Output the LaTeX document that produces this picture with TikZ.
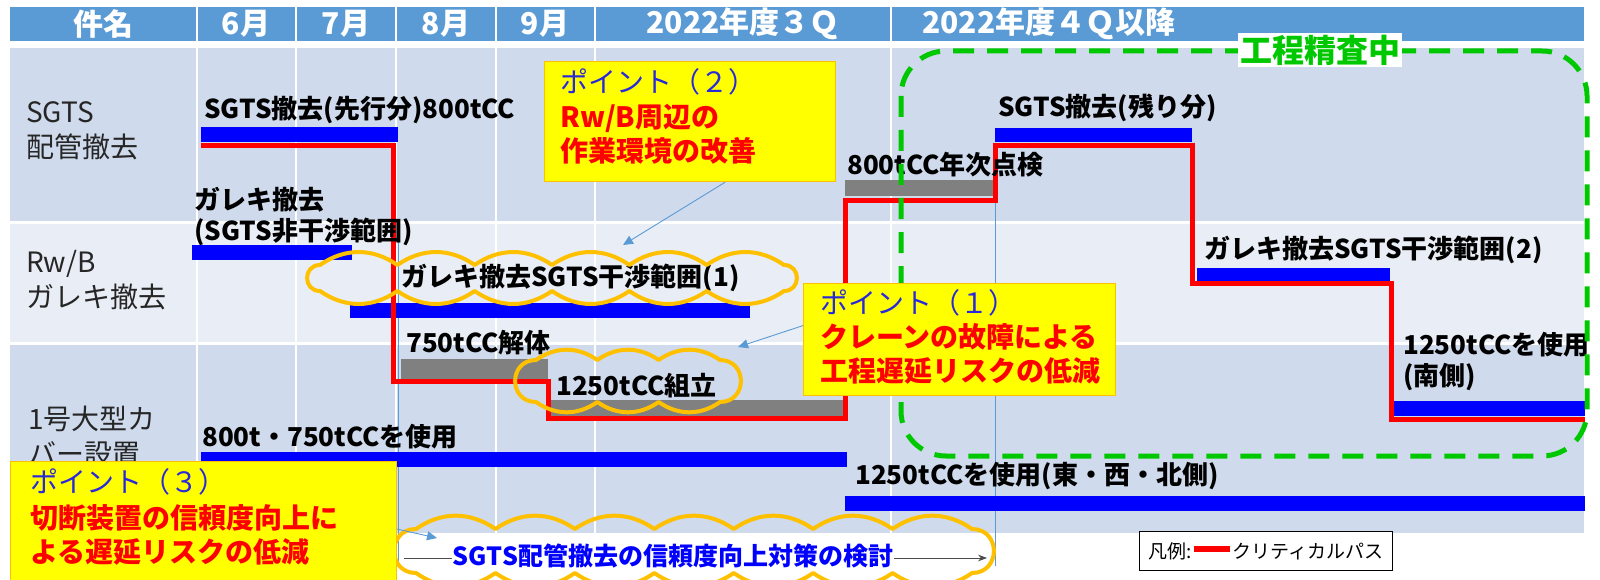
\documentclass[tikz,border=0pt]{standalone}
\usepackage{fontspec}
\setmainfont{Noto Sans CJK JP}
\usetikzlibrary{arrows.meta,positioning,calc}
\definecolor{hdrblue}{RGB}{91,155,213}
\definecolor{rowdark}{RGB}{207,218,236}
\definecolor{rowlite}{RGB}{233,237,245}
\definecolor{barblue}{RGB}{0,0,255}
\definecolor{bargray}{RGB}{128,128,128}
\definecolor{critred}{RGB}{255,0,0}
\definecolor{calloutfill}{RGB}{255,255,0}
\definecolor{calloutedge}{RGB}{255,192,0}
\definecolor{ptblue}{RGB}{40,40,220}
\definecolor{cloudorange}{RGB}{255,192,0}
\definecolor{checkgreen}{RGB}{0,200,0}
\definecolor{lbltext}{RGB}{38,38,38}
\tikzset{
  hdr/.style     = {text=white, font=\bfseries\fontsize{30}{32}\selectfont, inner sep=0pt},
  rowlbl/.style  = {text=lbltext, font=\fontsize{28}{35}\selectfont, align=left,
                    anchor=west, inner sep=0pt},
  lbl/.style     = {font=\bfseries\fontsize{26}{31}\selectfont, anchor=west,
                    align=left, inner sep=0pt},
  callout/.style = {fill=calloutfill, draw=calloutedge, line width=1.2pt,
                    anchor=north west, inner sep=0pt},
  pttitle/.style = {text=ptblue, font=\fontsize{28}{30}\selectfont, anchor=west, inner sep=0pt},
  ptbody/.style  = {text=critred, font=\bfseries\fontsize{28}{34}\selectfont,
                    anchor=north west, align=left, inner sep=0pt},
  puffline/.style = {draw=cloudorange, line width=4pt, line join=round, line cap=round},
  crit/.style    = {critred, line width=5pt},
  callarr/.style = {-{Triangle[length=10pt,width=9pt]}, hdrblue, line width=0.9pt},
}
% cloud: name, cx, cy, half straight length, end radius, puffs per side
\newcommand{\puffcloud}[6]{%
  \coordinate (#1) at (#2,#3);
  \draw[puffline] ($(#1)+(-#4,-#5)$)
    \foreach \k in {1,...,#6} {to[bend left=35] ($(#1)+({-#4+2*#4*\k/#6},-#5)$)}
    to[bend left=90, looseness=1.7] ($(#1)+(#4,#5)$)
    \foreach \k in {1,...,#6} {to[bend left=35] ($(#1)+({#4-2*#4*\k/#6},#5)$)}
    to[bend left=90, looseness=1.7] ($(#1)+(-#4,-#5)$);
}

\begin{document}
\begin{tikzpicture}[x=1pt, y=-1pt]
\useasboundingbox (0,0) rectangle (1600,580);
% ---- table ----
\fill[hdrblue] (10,7) rectangle (1584,41);
\fill[rowdark] (10,48) rectangle (1584,221);
\fill[rowlite] (10,224) rectangle (1584,342);
\fill[rowdark] (10,345) rectangle (1584,533);
\foreach \cx in {197,296,396,496,595,891}
  \draw[white, line width=2pt] (\cx,7) -- (\cx,533);
\node[hdr] (hname) at (103,24) {件名};
\node[hdr] (hjun) at (246,24) {6月};
\node[hdr] (hjul) at (346,24) {7月};
\node[hdr] (haug) at (446,24) {8月};
\node[hdr] (hsep) at (545,24) {9月};
\node[hdr] (hq3) at (743,24) {2022年度３Ｑ};
\node[hdr, anchor=west] (hq4) at (922,24) {2022年度４Ｑ以降};
\node[rowlbl] (rsgts) at (26,131) {SGTS\\配管撤去};
\node[rowlbl] (rrwb) at (26,280) {Rw/B\\ガレキ撤去};
\node[rowlbl] (rcover) at (28,436) {1号大型カ\\バー設置};
\draw[hdrblue, line width=0.8pt] (398,240) -- (398,566);
\draw[hdrblue, line width=0.8pt] (995,146) -- (995,566);
% ---- bars ----
\fill[barblue] (201,127) rectangle (398,142);
\fill[barblue] (192,245) rectangle (352,260);
\fill[barblue] (350,303) rectangle (750,318);
\fill[barblue] (201,452) rectangle (847,467);
\fill[barblue] (845,496) rectangle (1585,511);
\fill[barblue] (995,128) rectangle (1192,142);
\fill[barblue] (1197,268) rectangle (1390,282);
\fill[barblue] (1393,401) rectangle (1585,416);
\fill[bargray] (401,359) rectangle (548,380);
\fill[bargray] (548,400) rectangle (845,416);
\fill[bargray] (845,180) rectangle (995,196);
% ---- critical path ----
\draw[crit] (201,146) -| (393,381) -| (548,418) -| (845,201) -| (995,146)
  -| (1192,283) -| (1391,419) -- (1585,419);
% ---- labels ----
\node[lbl] (lsgts1) at (204,110) {SGTS撤去(先行分)800tCC};
\node[lbl] (lgare0) at (194,217) {ガレキ撤去\\(SGTS非干渉範囲)};
\node[lbl] (lgare1) at (401,278) {ガレキ撤去SGTS干渉範囲(1)};
\node[lbl] (l750) at (406,343) {750tCC解体};
\node[lbl] (l1250a) at (556,386) {1250tCC組立};
\node[lbl] (l800) at (202,437) {800t・750tCCを使用};
\node[lbl] (l1250b) at (855,476) {1250tCCを使用(東・西・北側)};
\node[lbl] (lannual) at (847,165) {800tCC年次点検};
\node[lbl] (lsgts2) at (998,108) {SGTS撤去(残り分)};
\node[lbl] (lgare2) at (1204,250) {ガレキ撤去SGTS干渉範囲(2)};
\node[lbl] (l1250c) at (1403,362) {1250tCCを使用\\(南側)};
% ---- clouds ----
\puffcloud{cl1}{552}{278}{232}{13}{6}
\puffcloud{cl2}{628}{381}{92}{21}{3}
\coordinate (evL) at (404,558);
\coordinate (evR) at (987,558);
\draw[-{Stealth[length=9pt]}, black!70, line width=1pt] (evL) -- (evR);
\node[fill=white, inner sep=1pt, text=barblue, font=\bfseries\fontsize{25}{25}\selectfont]
  (evtxt) at (673,556) {SGTS配管撤去の信頼度向上対策の検討};
\puffcloud{cl3}{694}{551}{278}{22}{7}
% ---- under review ----
\draw[checkgreen, line width=5pt, dash pattern=on 21pt off 13pt, rounded corners=45pt]
  (901,51) rectangle (1587,456);
\node[fill=white, inner sep=2pt, text=checkgreen, font=\bfseries\fontsize{32}{32}\selectfont]
  (review) at (1320,50) {工程精査中};
% ---- callouts ----
\node[callout, minimum width=291pt, minimum height=120pt] (p2) at (544,61) {};
\node[pttitle] (p2t) at ($(p2.north west)+(16,21)$) {ポイント（２）};
\node[ptbody] (p2b) at ($(p2.north west)+(16,43)$) {Rw/B周辺の\\作業環境の改善};
\node[callout, minimum width=312pt, minimum height=112pt] (p1) at (803,283) {};
\node[pttitle] (p1t) at ($(p1.north west)+(17,20)$) {ポイント（１）};
\node[ptbody] (p1b) at ($(p1.north west)+(17,40)$) {クレーンの故障による\\工程遅延リスクの低減};
\node[callout, minimum width=386pt, minimum height=119pt] (p3) at (10,461) {};
\node[pttitle] (p3t) at ($(p3.north west)+(20,21)$) {ポイント（３）};
\node[ptbody] (p3b) at ($(p3.north west)+(20,43)$) {切断装置の信頼度向上に\\よる遅延リスクの低減};
\draw[callarr] ($(p2.south west)!0.62!(p2.south east)$) -- ($(cl1)+(71,-33)$);
\draw[callarr] ([yshift=14pt]p1.west) -- ($(cl2)+(110,-34)$);
\draw[callarr] ([yshift=-8pt]p3.east) -- ($(cl3)+(-257,-13)$);
% ---- legend ----
\node[draw=black, line width=1.2pt, fill=white, minimum width=253pt, minimum height=39pt,
  inner sep=0pt, font=\fontsize{19}{19}\selectfont] (legend) at (1266,551)
  {凡例:\hspace{2pt}{\color{critred}\rule[0.3em]{36pt}{6pt}}\hspace{2pt}クリティカルパス};
\end{tikzpicture}
\end{document}
